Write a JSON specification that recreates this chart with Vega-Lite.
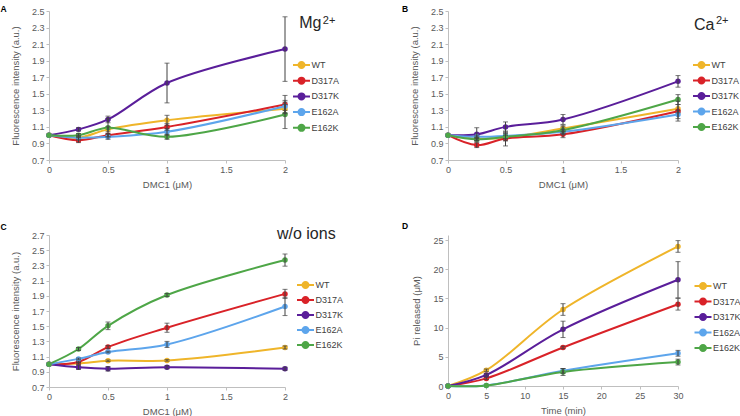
{
  "$schema": "https://vega.github.io/schema/vega-lite/v6.json",
  "padding": {"left": 0, "top": 4, "right": 0, "bottom": 0},
  "bounds": "flush",
  "columns": 2,
  "spacing": {"row": 75, "column": 163},
  "resolve": {"legend": {"color": "independent"}},
  "config": {
    "view": {"stroke": null},
    "font": "Liberation Sans",
    "axis": {"domainColor": "#bfbfbf", "tickColor": "#bfbfbf", "tickSize": 3, "grid": false, "labelFlush": false, "labelOverlap": false, "labelFont": "Liberation Sans", "labelFontSize": 9, "labelColor": "#595959", "labelPadding": 2, "titleFont": "Liberation Sans", "titleFontSize": 9.5, "titleFontWeight": "normal", "titleColor": "#595959"},
    "axisX": {"titlePadding": 5},
    "axisY": {"titlePadding": 11},
    "legend": {"padding": 0, "labelFont": "Liberation Sans", "labelFontSize": 9, "labelColor": "#404040", "labelOffset": 5.5}
  },
  "datasets": {
    "A": [
      {"strain": "WT", "x": 0, "v": 1.0, "err": 0}, {"strain": "WT", "x": 0.25, "v": 0.97, "err": 0.03}, {"strain": "WT", "x": 0.5, "v": 1.07, "err": 0.03}, {"strain": "WT", "x": 1, "v": 1.18, "err": 0.06}, {"strain": "WT", "x": 2, "v": 1.32, "err": 0.05},
      {"strain": "D317A", "x": 0, "v": 1.0, "err": 0}, {"strain": "D317A", "x": 0.25, "v": 0.94, "err": 0.03}, {"strain": "D317A", "x": 0.5, "v": 1.0, "err": 0.02}, {"strain": "D317A", "x": 1, "v": 1.1, "err": 0.04}, {"strain": "D317A", "x": 2, "v": 1.37, "err": 0.11},
      {"strain": "D317K", "x": 0, "v": 1.0, "err": 0}, {"strain": "D317K", "x": 0.25, "v": 1.07, "err": 0.02}, {"strain": "D317K", "x": 0.5, "v": 1.19, "err": 0.04}, {"strain": "D317K", "x": 1, "v": 1.63, "err": 0.24}, {"strain": "D317K", "x": 2, "v": 2.04, "err": 0.39},
      {"strain": "E162A", "x": 0, "v": 1.0, "err": 0}, {"strain": "E162A", "x": 0.25, "v": 0.97, "err": 0.02}, {"strain": "E162A", "x": 0.5, "v": 0.98, "err": 0.03}, {"strain": "E162A", "x": 1, "v": 1.04, "err": 0.04}, {"strain": "E162A", "x": 2, "v": 1.35, "err": 0.05},
      {"strain": "E162K", "x": 0, "v": 1.0, "err": 0}, {"strain": "E162K", "x": 0.25, "v": 1.0, "err": 0.02}, {"strain": "E162K", "x": 0.5, "v": 1.09, "err": 0.11}, {"strain": "E162K", "x": 1, "v": 0.98, "err": 0.03}, {"strain": "E162K", "x": 2, "v": 1.25, "err": 0.17}
    ],
    "B": [
      {"strain": "WT", "x": 0, "v": 1.0, "err": 0}, {"strain": "WT", "x": 0.25, "v": 0.96, "err": 0.02}, {"strain": "WT", "x": 0.5, "v": 0.97, "err": 0.03}, {"strain": "WT", "x": 1, "v": 1.08, "err": 0.04}, {"strain": "WT", "x": 2, "v": 1.32, "err": 0.05},
      {"strain": "D317A", "x": 0, "v": 1.0, "err": 0}, {"strain": "D317A", "x": 0.25, "v": 0.88, "err": 0.03}, {"strain": "D317A", "x": 0.5, "v": 0.96, "err": 0.09}, {"strain": "D317A", "x": 1, "v": 1.01, "err": 0.04}, {"strain": "D317A", "x": 2, "v": 1.29, "err": 0.12},
      {"strain": "D317K", "x": 0, "v": 1.0, "err": 0}, {"strain": "D317K", "x": 0.25, "v": 1.01, "err": 0.08}, {"strain": "D317K", "x": 0.5, "v": 1.1, "err": 0.06}, {"strain": "D317K", "x": 1, "v": 1.19, "err": 0.06}, {"strain": "D317K", "x": 2, "v": 1.65, "err": 0.07},
      {"strain": "E162A", "x": 0, "v": 1.0, "err": 0}, {"strain": "E162A", "x": 0.25, "v": 0.98, "err": 0.02}, {"strain": "E162A", "x": 0.5, "v": 0.99, "err": 0.03}, {"strain": "E162A", "x": 1, "v": 1.04, "err": 0.03}, {"strain": "E162A", "x": 2, "v": 1.25, "err": 0.05},
      {"strain": "E162K", "x": 0, "v": 1.0, "err": 0}, {"strain": "E162K", "x": 0.25, "v": 0.95, "err": 0.02}, {"strain": "E162K", "x": 0.5, "v": 0.98, "err": 0.05}, {"strain": "E162K", "x": 1, "v": 1.06, "err": 0.04}, {"strain": "E162K", "x": 2, "v": 1.43, "err": 0.06}
    ],
    "C": [
      {"strain": "WT", "x": 0, "v": 1.0, "err": 0}, {"strain": "WT", "x": 0.25, "v": 1.01, "err": 0.01}, {"strain": "WT", "x": 0.5, "v": 1.045, "err": 0.01}, {"strain": "WT", "x": 1, "v": 1.05, "err": 0.01}, {"strain": "WT", "x": 2, "v": 1.22, "err": 0.02},
      {"strain": "D317A", "x": 0, "v": 1.0, "err": 0}, {"strain": "D317A", "x": 0.25, "v": 1.03, "err": 0.01}, {"strain": "D317A", "x": 0.5, "v": 1.225, "err": 0.02}, {"strain": "D317A", "x": 1, "v": 1.48, "err": 0.06}, {"strain": "D317A", "x": 2, "v": 1.925, "err": 0.06},
      {"strain": "D317K", "x": 0, "v": 1.0, "err": 0}, {"strain": "D317K", "x": 0.25, "v": 0.96, "err": 0.03}, {"strain": "D317K", "x": 0.5, "v": 0.94, "err": 0.03}, {"strain": "D317K", "x": 1, "v": 0.96, "err": 0.02}, {"strain": "D317K", "x": 2, "v": 0.94, "err": 0.02},
      {"strain": "E162A", "x": 0, "v": 1.0, "err": 0}, {"strain": "E162A", "x": 0.25, "v": 1.07, "err": 0.01}, {"strain": "E162A", "x": 0.5, "v": 1.16, "err": 0.01}, {"strain": "E162A", "x": 1, "v": 1.26, "err": 0.04}, {"strain": "E162A", "x": 2, "v": 1.76, "err": 0.12},
      {"strain": "E162K", "x": 0, "v": 1.0, "err": 0}, {"strain": "E162K", "x": 0.25, "v": 1.2, "err": 0.02}, {"strain": "E162K", "x": 0.5, "v": 1.505, "err": 0.05}, {"strain": "E162K", "x": 1, "v": 1.91, "err": 0.02}, {"strain": "E162K", "x": 2, "v": 2.37, "err": 0.08}
    ],
    "D": [
      {"strain": "WT", "x": 0, "v": 0, "err": 0}, {"strain": "WT", "x": 5, "v": 2.7, "err": 0.2}, {"strain": "WT", "x": 15, "v": 13.1, "err": 1.0}, {"strain": "WT", "x": 30, "v": 23.9, "err": 1.0},
      {"strain": "D317A", "x": 0, "v": 0, "err": 0}, {"strain": "D317A", "x": 5, "v": 1.3, "err": 0.2}, {"strain": "D317A", "x": 15, "v": 6.6, "err": 0.2}, {"strain": "D317A", "x": 30, "v": 14.0, "err": 1.0},
      {"strain": "D317K", "x": 0, "v": 0, "err": 0}, {"strain": "D317K", "x": 5, "v": 1.9, "err": 0.2}, {"strain": "D317K", "x": 15, "v": 9.7, "err": 1.4}, {"strain": "D317K", "x": 30, "v": 18.2, "err": 3.1},
      {"strain": "E162A", "x": 0, "v": 0, "err": 0}, {"strain": "E162A", "x": 5, "v": 0.1, "err": 0}, {"strain": "E162A", "x": 15, "v": 2.6, "err": 0.4}, {"strain": "E162A", "x": 30, "v": 5.6, "err": 0.5},
      {"strain": "E162K", "x": 0, "v": 0, "err": 0}, {"strain": "E162K", "x": 5, "v": 0.1, "err": 0}, {"strain": "E162K", "x": 15, "v": 2.4, "err": 0.6}, {"strain": "E162K", "x": 30, "v": 4.1, "err": 0.5}
    ]
  },
  "concat": [
    {
      "width": 236, "height": 149,
      "layer": [
        {"data": {"name": "A"},
         "encoding": {
           "x": {"field": "x", "type": "quantitative", "scale": {"domain": [0, 2]}, "axis": {"title": "DMC1 (μM)", "values": [0, 0.5, 1, 1.5, 2], "format": "~g", "labelOverlap": false}},
           "y": {"field": "v", "type": "quantitative", "scale": {"domain": [0.7, 2.5], "nice": false, "zero": false}, "axis": {"title": "Fluorescence intensity (a.u.)", "values": [0.7, 0.9, 1.1, 1.3, 1.5, 1.7, 1.9, 2.1, 2.3, 2.5], "format": ".1f", "labelOverlap": false}}
         },
         "layer": [
           {"mark": {"type": "line", "interpolate": "catmull-rom", "strokeWidth": 2},
            "encoding": {"color": {"field": "strain", "type": "nominal", "scale": {"domain": ["WT", "D317A", "D317K", "E162A", "E162K"], "range": ["#EFB52A", "#D92228", "#5A1E9A", "#5DA5EC", "#4EA647"]},
              "legend": {"title": null, "orient": "none", "legendX": 248, "legendY": 49.5, "rowPadding": 0.7, "symbolType": "M-2.55,0H2.55M-0.9,0A0.9,0.9,0,1,1,0.9,0A0.9,0.9,0,1,1,-0.9,0Z", "symbolSize": 44.4, "symbolStrokeWidth": 2,
                "encode": {"symbols": {"update": {"fill": {"scale": "color", "field": "value"}, "stroke": {"scale": "color", "field": "value"}}}}}}}},
           {"mark": {"type": "point", "filled": true, "size": 30, "opacity": 1},
            "encoding": {"color": {"field": "strain", "type": "nominal"}}},
           {"transform": [{"filter": "datum.err > 0"}],
            "mark": {"type": "errorbar", "ticks": {"size": 5}, "color": "#404040", "thickness": 1},
            "encoding": {"yError": {"field": "err"}}}
         ]},
        {"data": {"values": [{"t": "A"}, {"t": "Mg"}, {"t": "2+"}]},
         "layer": [
           {"transform": [{"filter": "datum.t === 'A'"}], "mark": {"type": "text", "fontWeight": "bold", "fontSize": 8.5, "align": "left", "baseline": "top", "color": "#000000"},
            "encoding": {"text": {"field": "t"}, "x": {"datum": -0.41, "type": "quantitative", "axis": {"title": "DMC1 (μM)", "values": [0, 0.5, 1, 1.5, 2], "format": "~g", "labelOverlap": false}}, "y": {"datum": 2.575, "type": "quantitative", "axis": {"title": "Fluorescence intensity (a.u.)", "values": [0.7, 0.9, 1.1, 1.3, 1.5, 1.7, 1.9, 2.1, 2.3, 2.5], "format": ".1f", "labelOverlap": false}}}},
           {"transform": [{"filter": "datum.t === 'Mg'"}], "mark": {"type": "text", "fontSize": 16, "align": "left", "baseline": "alphabetic", "color": "#262626"},
            "encoding": {"text": {"field": "t"}, "x": {"datum": 2.12, "type": "quantitative", "axis": {"title": "DMC1 (μM)", "values": [0, 0.5, 1, 1.5, 2], "format": "~g", "labelOverlap": false}}, "y": {"datum": 2.295, "type": "quantitative", "axis": {"title": "Fluorescence intensity (a.u.)", "values": [0.7, 0.9, 1.1, 1.3, 1.5, 1.7, 1.9, 2.1, 2.3, 2.5], "format": ".1f", "labelOverlap": false}}}},
           {"transform": [{"filter": "datum.t === '2+'"}], "mark": {"type": "text", "fontSize": 11, "align": "left", "baseline": "alphabetic", "color": "#262626"},
            "encoding": {"text": {"field": "t"}, "x": {"datum": 2.32, "type": "quantitative", "axis": {"title": "DMC1 (μM)", "values": [0, 0.5, 1, 1.5, 2], "format": "~g", "labelOverlap": false}}, "y": {"datum": 2.343, "type": "quantitative", "axis": {"title": "Fluorescence intensity (a.u.)", "values": [0.7, 0.9, 1.1, 1.3, 1.5, 1.7, 1.9, 2.1, 2.3, 2.5], "format": ".1f", "labelOverlap": false}}}}
         ]}
      ]
    },
    {
      "width": 230, "height": 149,
      "layer": [
        {"data": {"name": "B"},
         "encoding": {
           "x": {"field": "x", "type": "quantitative", "scale": {"domain": [0, 2]}, "axis": {"title": "DMC1 (μM)", "values": [0, 0.5, 1, 1.5, 2], "format": "~g", "labelOverlap": false}},
           "y": {"field": "v", "type": "quantitative", "scale": {"domain": [0.7, 2.5], "nice": false, "zero": false}, "axis": {"title": "Fluorescence intensity (a.u.)", "values": [0.7, 0.9, 1.1, 1.3, 1.5, 1.7, 1.9, 2.1, 2.3, 2.5], "format": ".1f", "labelOverlap": false}}
         },
         "layer": [
           {"mark": {"type": "line", "interpolate": "catmull-rom", "strokeWidth": 2},
            "encoding": {"color": {"field": "strain", "type": "nominal",
              "legend": {"title": null, "orient": "none", "legendX": 249, "legendY": 49.5, "rowPadding": 0.5, "symbolType": "M-2.55,0H2.55M-0.9,0A0.9,0.9,0,1,1,0.9,0A0.9,0.9,0,1,1,-0.9,0Z", "symbolSize": 44.4, "symbolStrokeWidth": 2,
                "encode": {"symbols": {"update": {"fill": {"scale": "color", "field": "value"}, "stroke": {"scale": "color", "field": "value"}}}}}}}},
           {"mark": {"type": "point", "filled": true, "size": 30, "opacity": 1},
            "encoding": {"color": {"field": "strain", "type": "nominal"}}},
           {"transform": [{"filter": "datum.err > 0"}],
            "mark": {"type": "errorbar", "ticks": {"size": 5}, "color": "#404040", "thickness": 1},
            "encoding": {"yError": {"field": "err"}}}
         ]},
        {"data": {"values": [{"t": "B"}, {"t": "Ca"}, {"t": "2+"}]},
         "layer": [
           {"transform": [{"filter": "datum.t === 'B'"}], "mark": {"type": "text", "fontWeight": "bold", "fontSize": 8.5, "align": "left", "baseline": "top", "color": "#000000"},
            "encoding": {"text": {"field": "t"}, "x": {"datum": -0.4, "type": "quantitative", "axis": {"title": "DMC1 (μM)", "values": [0, 0.5, 1, 1.5, 2], "format": "~g", "labelOverlap": false}}, "y": {"datum": 2.575, "type": "quantitative", "axis": {"title": "Fluorescence intensity (a.u.)", "values": [0.7, 0.9, 1.1, 1.3, 1.5, 1.7, 1.9, 2.1, 2.3, 2.5], "format": ".1f", "labelOverlap": false}}}},
           {"transform": [{"filter": "datum.t === 'Ca'"}], "mark": {"type": "text", "fontSize": 16, "align": "left", "baseline": "alphabetic", "color": "#262626"},
            "encoding": {"text": {"field": "t"}, "x": {"datum": 2.139, "type": "quantitative", "axis": {"title": "DMC1 (μM)", "values": [0, 0.5, 1, 1.5, 2], "format": "~g", "labelOverlap": false}}, "y": {"datum": 2.267, "type": "quantitative", "axis": {"title": "Fluorescence intensity (a.u.)", "values": [0.7, 0.9, 1.1, 1.3, 1.5, 1.7, 1.9, 2.1, 2.3, 2.5], "format": ".1f", "labelOverlap": false}}}},
           {"transform": [{"filter": "datum.t === '2+'"}], "mark": {"type": "text", "fontSize": 11, "align": "left", "baseline": "alphabetic", "color": "#262626"},
            "encoding": {"text": {"field": "t"}, "x": {"datum": 2.33, "type": "quantitative", "axis": {"title": "DMC1 (μM)", "values": [0, 0.5, 1, 1.5, 2], "format": "~g", "labelOverlap": false}}, "y": {"datum": 2.339, "type": "quantitative", "axis": {"title": "Fluorescence intensity (a.u.)", "values": [0.7, 0.9, 1.1, 1.3, 1.5, 1.7, 1.9, 2.1, 2.3, 2.5], "format": ".1f", "labelOverlap": false}}}}
         ]}
      ]
    },
    {
      "width": 236, "height": 152,
      "layer": [
        {"data": {"name": "C"},
         "encoding": {
           "x": {"field": "x", "type": "quantitative", "scale": {"domain": [0, 2]}, "axis": {"title": "DMC1 (μM)", "values": [0, 0.5, 1, 1.5, 2], "format": "~g", "labelOverlap": false}},
           "y": {"field": "v", "type": "quantitative", "scale": {"domain": [0.7, 2.7], "nice": false, "zero": false}, "axis": {"title": "Fluorescence intensity (a.u.)", "values": [0.7, 0.9, 1.1, 1.3, 1.5, 1.7, 1.9, 2.1, 2.3, 2.5, 2.7], "format": ".1f", "labelOverlap": false}}
         },
         "layer": [
           {"mark": {"type": "line", "interpolate": "catmull-rom", "strokeWidth": 2},
            "encoding": {"color": {"field": "strain", "type": "nominal",
              "legend": {"title": null, "orient": "none", "legendX": 252, "legendY": 45.5, "rowPadding": 0, "symbolType": "M-2.55,0H2.55M-0.9,0A0.9,0.9,0,1,1,0.9,0A0.9,0.9,0,1,1,-0.9,0Z", "symbolSize": 44.4, "symbolStrokeWidth": 2,
                "encode": {"symbols": {"update": {"fill": {"scale": "color", "field": "value"}, "stroke": {"scale": "color", "field": "value"}}}}}}}},
           {"mark": {"type": "point", "filled": true, "size": 30, "opacity": 1},
            "encoding": {"color": {"field": "strain", "type": "nominal"}}},
           {"transform": [{"filter": "datum.err > 0"}],
            "mark": {"type": "errorbar", "ticks": {"size": 5}, "color": "#404040", "thickness": 1},
            "encoding": {"yError": {"field": "err"}}}
         ]},
        {"data": {"values": [{"t": "C"}, {"t": "w/o ions"}]},
         "layer": [
           {"transform": [{"filter": "datum.t === 'C'"}], "mark": {"type": "text", "fontWeight": "bold", "fontSize": 8.5, "align": "left", "baseline": "top", "color": "#000000"},
            "encoding": {"text": {"field": "t"}, "x": {"datum": -0.41, "type": "quantitative", "axis": {"title": "DMC1 (μM)", "values": [0, 0.5, 1, 1.5, 2], "format": "~g", "labelOverlap": false}}, "y": {"datum": 2.86, "type": "quantitative", "axis": {"title": "Fluorescence intensity (a.u.)", "values": [0.7, 0.9, 1.1, 1.3, 1.5, 1.7, 1.9, 2.1, 2.3, 2.5, 2.7], "format": ".1f", "labelOverlap": false}}}},
           {"transform": [{"filter": "datum.t === 'w/o ions'"}], "mark": {"type": "text", "fontSize": 16, "align": "left", "baseline": "alphabetic", "color": "#262626"},
            "encoding": {"text": {"field": "t"}, "x": {"datum": 1.932, "type": "quantitative", "axis": {"title": "DMC1 (μM)", "values": [0, 0.5, 1, 1.5, 2], "format": "~g", "labelOverlap": false}}, "y": {"datum": 2.647, "type": "quantitative", "axis": {"title": "Fluorescence intensity (a.u.)", "values": [0.7, 0.9, 1.1, 1.3, 1.5, 1.7, 1.9, 2.1, 2.3, 2.5, 2.7], "format": ".1f", "labelOverlap": false}}}}
         ]}
      ]
    },
    {
      "width": 230, "height": 151,
      "layer": [
        {"data": {"name": "D"},
         "encoding": {
           "x": {"field": "x", "type": "quantitative", "scale": {"domain": [0, 30]}, "axis": {"title": "Time (min)", "values": [0, 5, 10, 15, 20, 25, 30], "labelOverlap": false}},
           "y": {"field": "v", "type": "quantitative", "scale": {"domain": [0, 25.86], "nice": false}, "axis": {"title": "Pi released (μM)", "values": [0, 5, 10, 15, 20, 25], "labelOverlap": false}}
         },
         "layer": [
           {"mark": {"type": "line", "interpolate": "catmull-rom", "strokeWidth": 2},
            "encoding": {"color": {"field": "strain", "type": "nominal",
              "legend": {"title": null, "orient": "none", "legendX": 250.5, "legendY": 46.5, "rowPadding": 0.5, "symbolType": "M-2.55,0H2.55M-0.9,0A0.9,0.9,0,1,1,0.9,0A0.9,0.9,0,1,1,-0.9,0Z", "symbolSize": 44.4, "symbolStrokeWidth": 2,
                "encode": {"symbols": {"update": {"fill": {"scale": "color", "field": "value"}, "stroke": {"scale": "color", "field": "value"}}}}}}}},
           {"mark": {"type": "point", "filled": true, "size": 30, "opacity": 1},
            "encoding": {"color": {"field": "strain", "type": "nominal"}}},
           {"transform": [{"filter": "datum.err > 0"}],
            "mark": {"type": "errorbar", "ticks": {"size": 5}, "color": "#404040", "thickness": 1},
            "encoding": {"yError": {"field": "err"}}}
         ]},
        {"data": {"values": [{"t": "D"}]},
         "mark": {"type": "text", "fontWeight": "bold", "fontSize": 8.5, "align": "left", "baseline": "top", "color": "#000000"},
         "encoding": {"text": {"field": "t"}, "x": {"datum": -6.0, "type": "quantitative", "axis": {"title": "Time (min)", "values": [0, 5, 10, 15, 20, 25, 30], "labelOverlap": false}}, "y": {"datum": 28.15, "type": "quantitative", "axis": {"title": "Pi released (μM)", "values": [0, 5, 10, 15, 20, 25], "labelOverlap": false}}}}
      ]
    }
  ]
}
